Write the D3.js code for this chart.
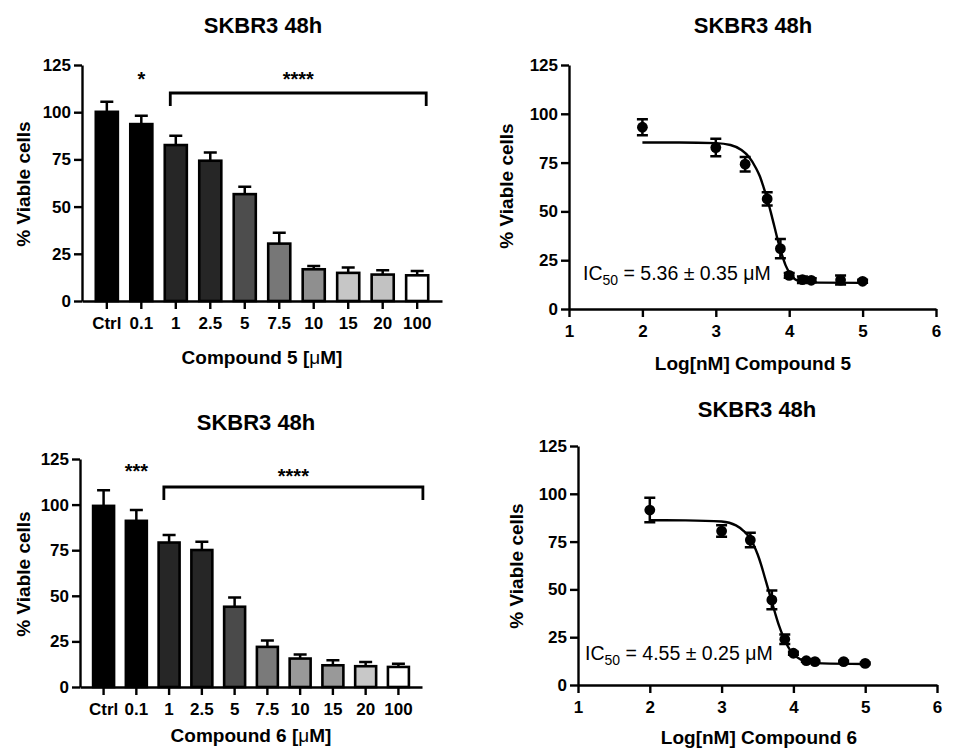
<!DOCTYPE html>
<html>
<head>
<meta charset="utf-8">
<script src="https://cdn.jsdelivr.net/npm/d3@7"></script>
<style>
  body { margin: 0; background: #fff; }
  svg { display: block; font-family: "Liberation Sans", Arial, Helvetica, sans-serif; }
  .axis path, .axis line { stroke: #000; stroke-width: 2.4; }
  .axis text { font-size: 17px; font-weight: bold; fill: #000; font-family: "Liberation Sans", Arial, sans-serif; }
  .title { font-size: 22px; font-weight: bold; }
  .label { font-size: 19px; font-weight: bold; }
  .stars { font-size: 20px; font-weight: bold; }
  .ic50 { font-size: 19.5px; }
</style>
</head>
<body>
<div id="chart"></div>
<script>
// bar charts: concentration groups (uM)
const concLabels = ["Ctrl", "0.1", "1", "2.5", "5", "7.5", "10", "15", "20", "100"];
const yTicks = [0, 25, 50, 75, 100, 125];
const c5Means = [100.2, 93.7, 82.6, 74.3, 56.6, 30.4, 16.8, 14.9, 14.0, 13.6];
const c5Err = [5.3, 4.4, 4.9, 4.4, 3.9, 5.7, 1.8, 2.8, 2.3, 2.3];
const c6Means = [99.3, 91.1, 79.2, 75.1, 44.0, 22.0, 15.6, 11.9, 11.4, 11.0];
const c6Err = [8.5, 6.0, 4.2, 4.6, 5.1, 3.5, 2.2, 2.8, 2.3, 1.8];

// dose-response: log[nM] doses
const logTicks = [1, 2, 3, 4, 5, 6];
const logDose = [2, 3, 3.4, 3.7, 3.88, 4.0, 4.18, 4.3, 4.7, 5];
const c5Viab = [93.1, 82.7, 74.2, 56.4, 30.9, 17.2, 15.0, 14.7, 14.8, 14.2];
const c5Sd = [4.1, 4.5, 3.7, 3.4, 4.9, 1.2, 1.7, 1.0, 2.3, 0.8];
const c6Viab = [91.5, 80.5, 75.8, 44.5, 23.9, 16.6, 12.7, 12.2, 12.2, 11.3];
const c6Sd = [6.4, 3.0, 3.8, 4.9, 2.5, 0.8, 0.6, 0.5, 0.5, 0.5];

// fitted curves
const fit5X = [2, 2.5, 3.0, 3.2, 3.35, 3.45, 3.55, 3.6, 3.65, 3.7, 3.75, 3.8, 3.85, 3.9, 3.95, 4.0, 4.05, 4.1, 4.2, 4.4, 5.0];
const fit5Y = [85.3, 85.3, 85.0, 84.0, 81.5, 78, 72, 68, 62.5, 56.5, 49.5, 42, 34.5, 28, 22.5, 18.8, 16.2, 14.8, 13.9, 13.5, 13.4];
const fit6X = [2, 2.5, 3.0, 3.2, 3.3, 3.4, 3.45, 3.5, 3.55, 3.6, 3.65, 3.7, 3.75, 3.8, 3.85, 3.9, 3.95, 4.0, 4.1, 4.2, 4.4, 5.0];
const fit6Y = [86.2, 86.1, 85.5, 83.5, 80.8, 76.5, 73, 68.5, 63, 56.5, 50, 43.5, 37, 31, 26, 21.8, 18.5, 16.2, 13.3, 12, 11.3, 11.0];

const c5Fill = ["#000", "#000", "#262626", "#262626", "#4d4d4d", "#777", "#8f8f8f", "#c6c6c6", "#c2c2c2", "#fff"];
const c6Fill = ["#000", "#000", "#262626", "#262626", "#4a4a4a", "#7a7a7a", "#999", "#999", "#c8c8c8", "#fff"];

const svg = d3.select("#chart").append("svg")
    .attr("width", 957)
    .attr("height", 755);

svg.append("rect").attr("width", 957).attr("height", 755).attr("fill", "#fff");

function drawBars(c) {
  const x = d3.scaleBand().domain(concLabels).range([c.left, c.right])
      .paddingInner(0.36).paddingOuter(0.4);
  const y = d3.scaleLinear().domain([0, 125]).range([c.bottom, c.top]);
  const bw = x.bandwidth();
  const g = svg.append("g");

  g.append("g").attr("class", "axis")
      .attr("transform", "translate(0," + c.bottom + ")")
      .call(d3.axisBottom(x).tickSizeOuter(0).tickSizeInner(8).tickPadding(8));
  g.append("g").attr("class", "axis")
      .attr("transform", "translate(" + c.left + ",0)")
      .call(d3.axisLeft(y).tickValues(yTicks).tickSizeOuter(0).tickSizeInner(8).tickPadding(3));

  const rows = concLabels.map((k, i) => ({ k: k, m: c.means[i], e: c.err[i], f: c.fill[i] }));

  // error bars (upper only) go behind the bars
  g.selectAll(".err").data(rows).enter().append("path")
      .attr("class", "err")
      .attr("fill", "none").attr("stroke", "#000").attr("stroke-width", 2.5)
      .attr("d", d => {
        const cx = x(d.k) + bw / 2;
        return "M" + cx + "," + y(d.m) + "V" + y(d.m + d.e) + "M" + (cx - 6.5) + "," + y(d.m + d.e) + "H" + (cx + 6.5);
      });

  g.selectAll(".bar").data(rows).enter().append("rect")
      .attr("class", "bar")
      .attr("x", d => x(d.k))
      .attr("y", d => y(d.m))
      .attr("width", bw)
      .attr("height", d => c.bottom - y(d.m))
      .attr("fill", d => d.f)
      .attr("stroke", "#000").attr("stroke-width", 2.6);

  // significance marks
  g.append("text").attr("class", "stars").attr("text-anchor", "middle")
      .attr("x", x("0.1") + bw / 2).attr("y", c.starY1).text(c.star1);
  const bx1 = x("1") + bw * 0.25, bx2 = x("100") + bw + c.bracketPad;
  g.append("path").attr("fill", "none").attr("stroke", "#000").attr("stroke-width", 2.8)
      .attr("d", "M" + bx1 + "," + (c.bracketY + 13) + "V" + c.bracketY + "H" + bx2 + "V" + (c.bracketY + 13));
  g.append("text").attr("class", "stars").attr("text-anchor", "middle")
      .attr("x", (bx1 + bx2) / 2).attr("y", c.starY2).text("****");

  g.append("text").attr("class", "title").attr("text-anchor", "middle")
      .attr("x", c.titleX).attr("y", c.titleY).text("SKBR3 48h");
  g.append("text").attr("class", "label").attr("text-anchor", "middle")
      .attr("transform", "translate(" + c.ylabX + "," + c.ylabY + ") rotate(-90)")
      .text("% Viable cells");
  const xl = g.append("text").attr("class", "label").attr("text-anchor", "middle")
      .attr("x", c.xlabX).attr("y", c.xlabY);
  xl.append("tspan").text(c.compound + " [");
  xl.append("tspan").attr("font-weight", "normal").text("\u03bc");
  xl.append("tspan").text("M]");
}

function drawCurve(c) {
  const x = d3.scaleLinear().domain([1, 6]).range([c.left, c.right]);
  const y = d3.scaleLinear().domain([0, 125]).range([c.bottom, c.top]);
  const g = svg.append("g");

  g.append("g").attr("class", "axis")
      .attr("transform", "translate(0," + c.bottom + ")")
      .call(d3.axisBottom(x).tickValues(logTicks).tickFormat(d3.format("d"))
        .tickSizeOuter(0).tickSizeInner(8).tickPadding(8));
  g.append("g").attr("class", "axis")
      .attr("transform", "translate(" + c.left + ",0)")
      .call(d3.axisLeft(y).tickValues(yTicks).tickSizeOuter(0).tickSizeInner(8).tickPadding(3));

  const fit = c.fitX.map((v, i) => [v, c.fitY[i]]);
  const line = d3.line()
      .x(d => x(d[0]))
      .y(d => y(d[1]))
      .curve(d3.curveMonotoneX);
  g.append("path").attr("d", line(fit))
      .attr("fill", "none").attr("stroke", "#000").attr("stroke-width", 2.4);

  const pts = logDose.map((v, i) => ({ x: v, m: c.viab[i], e: c.sd[i] }));
  g.selectAll(".eb").data(pts).enter().append("path")
      .attr("class", "eb")
      .attr("fill", "none").attr("stroke", "#000").attr("stroke-width", 2.5)
      .attr("d", d => {
        const cx = x(d.x), t = y(d.m + d.e), b = y(d.m - d.e);
        return "M" + cx + "," + t + "V" + b + "M" + (cx - 5.5) + "," + t + "H" + (cx + 5.5) +
               "M" + (cx - 5.5) + "," + b + "H" + (cx + 5.5);
      });
  g.selectAll(".dot").data(pts).enter().append("circle")
      .attr("class", "dot")
      .attr("cx", d => x(d.x))
      .attr("cy", d => y(d.m))
      .attr("r", 5.4)
      .attr("fill", "#000");

  const ic = g.append("text").attr("class", "ic50").attr("x", c.icX).attr("y", c.icY);
  ic.append("tspan").text("IC");
  ic.append("tspan").attr("font-size", "14px").attr("dy", 5).text("50");
  ic.append("tspan").attr("dy", -5).text(" = " + c.ic50 + " \u00b1 " + c.icErr + " \u03bcM");

  g.append("text").attr("class", "title").attr("text-anchor", "middle")
      .attr("x", c.titleX).attr("y", c.titleY).text("SKBR3 48h");
  g.append("text").attr("class", "label").attr("text-anchor", "middle")
      .attr("transform", "translate(" + c.ylabX + "," + c.ylabY + ") rotate(-90)")
      .text("% Viable cells");
  g.append("text").attr("class", "label").attr("text-anchor", "middle")
      .attr("x", c.xlabX).attr("y", c.xlabY).text("Log[nM] " + c.compound);
}

drawBars({
  left: 82, right: 442, top: 65, bottom: 301,
  means: c5Means, err: c5Err, fill: c5Fill,
  star1: "*", starY1: 86, starY2: 86, bracketY: 93, bracketPad: -2,
  titleX: 263, titleY: 33, ylabX: 30, ylabY: 184, xlabX: 262, xlabY: 364,
  compound: "Compound 5"
});

drawBars({
  left: 80, right: 422, top: 459, bottom: 687,
  means: c6Means, err: c6Err, fill: c6Fill,
  star1: "***", starY1: 478, starY2: 483, bracketY: 487, bracketPad: 14,
  titleX: 256, titleY: 430, ylabX: 30, ylabY: 574, xlabX: 251, xlabY: 742,
  compound: "Compound 6"
});

drawCurve({
  left: 569, right: 936, top: 65, bottom: 309,
  viab: c5Viab, sd: c5Sd, fitX: fit5X, fitY: fit5Y,
  ic50: "5.36", icErr: "0.35", icX: 583, icY: 280,
  titleX: 753, titleY: 33, ylabX: 513, ylabY: 186, xlabX: 753, xlabY: 370,
  compound: "Compound 5"
});

drawCurve({
  left: 578, right: 937, top: 446, bottom: 685,
  viab: c6Viab, sd: c6Sd, fitX: fit6X, fitY: fit6Y,
  ic50: "4.55", icErr: "0.25", icX: 585, icY: 660,
  titleX: 757, titleY: 417, ylabX: 523, ylabY: 566, xlabX: 759, xlabY: 744,
  compound: "Compound 6"
});
</script>
</body>
</html>
